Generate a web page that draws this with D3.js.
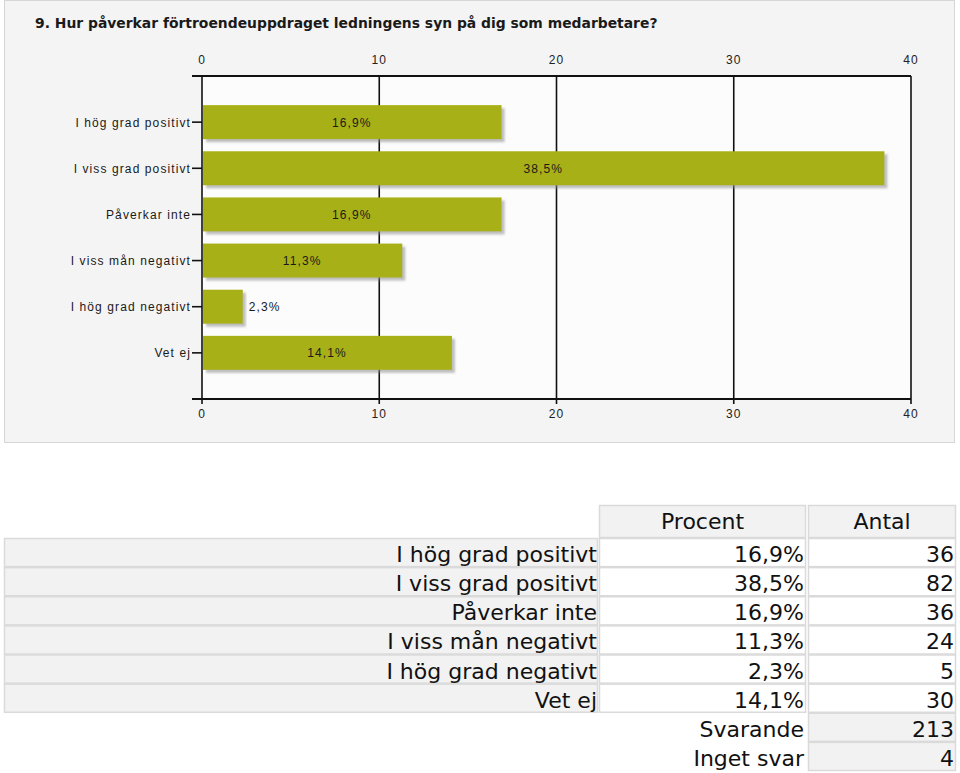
<!DOCTYPE html>
<html>
<head>
<meta charset="utf-8">
<script src="https://cdn.jsdelivr.net/npm/d3@7"></script>
<style>
  body { margin: 0; background: #fff; }
  svg text { font-family: "Liberation Sans", Arial, sans-serif; }
  .tbl text { font-family: "DejaVu Sans", Verdana, sans-serif; font-size: 22px; fill: #111; }
</style>
</head>
<body>
<script>
// chart data
var title = "9. Hur påverkar förtroendeuppdraget ledningens syn på dig som medarbetare?";
var categories = ["I hög grad positivt", "I viss grad positivt", "Påverkar inte",
                  "I viss mån negativt", "I hög grad negativt", "Vet ej"];
var percents = [16.9, 38.5, 16.9, 11.3, 2.3, 14.1];
var counts = [36, 82, 36, 24, 5, 30];
var xTicks = [0, 10, 20, 30, 40];

// table data
var columns = ["Procent", "Antal"];
var summaryLabels = ["Svarande", "Inget svar"];
var summaryValues = [213, 4];

var fmt = function(v) { return d3.format(".1f")(v).replace(".", ",") + "%"; };

var svg = d3.select("body").append("svg")
    .attr("width", 960)
    .attr("height", 773);

var defs = svg.append("defs");
defs.append("filter")
    .attr("id", "shadow")
    .attr("x", "-5%").attr("y", "-20%")
    .attr("width", "115%").attr("height", "160%")
  .append("feDropShadow")
    .attr("dx", 3).attr("dy", 3)
    .attr("stdDeviation", 1.2)
    .attr("flood-color", "#8a8a8a")
    .attr("flood-opacity", 0.55);

// panel
svg.append("rect")
    .attr("x", 4.5).attr("y", 0.5)
    .attr("width", 950).attr("height", 442)
    .attr("fill", "#f4f4f4")
    .attr("stroke", "#d6d6d6");

var t = svg.append("text")
    .attr("x", 35).attr("y", 28)
    .style("font-family", "'DejaVu Sans', Verdana, sans-serif")
    .style("font-weight", "bold")
    .style("font-size", "12px")
    .attr("fill", "#1a1a1a")
    .text(title);
var tw = t.node().getComputedTextLength();
t.style("font-size", (12 * 623 / tw) + "px");

// plot geometry
var x = d3.scaleLinear().domain([0, 40]).range([202, 911]);
var y = d3.scalePoint().domain(categories).range([76, 399]).padding(1);
var barH = 34;

svg.append("rect")
    .attr("x", x(0)).attr("y", 76)
    .attr("width", x(40) - x(0)).attr("height", 399 - 76)
    .attr("fill", "#fcfcfc");

// grid lines
svg.append("g").selectAll("line")
    .data(xTicks)
  .enter().append("line")
    .attr("x1", function(d) { return x(d); })
    .attr("x2", function(d) { return x(d); })
    .attr("y1", 76).attr("y2", 404)
    .attr("stroke", "#111")
    .attr("stroke-width", 1.6);

// bars
svg.append("g").selectAll("rect")
    .data(percents)
  .enter().append("rect")
    .attr("x", x(0) + 1)
    .attr("y", function(d, i) { return y(categories[i]) - barH / 2; })
    .attr("width", function(d) { return x(d) - x(0) - 1; })
    .attr("height", barH)
    .attr("fill", "#a7b012")
    .attr("filter", "url(#shadow)");

// value labels
svg.append("g").selectAll("text")
    .data(percents)
  .enter().append("text")
    .attr("x", function(d) {
        var w = x(d) - x(0);
        return w > 60 ? x(0) + w / 2 : x(d) + 6;
    })
    .attr("y", function(d, i) { return y(categories[i]) + 4.5; })
    .attr("text-anchor", function(d) { return x(d) - x(0) > 60 ? "middle" : "start"; })
    .style("font-size", "12px")
    .style("letter-spacing", "1.1px")
    .attr("fill", "#1a1a1a")
    .text(fmt);

// axes lines (top & bottom) extend left of zero
[76, 399].forEach(function(yy) {
    svg.append("line")
        .attr("x1", 192).attr("x2", x(40))
        .attr("y1", yy).attr("y2", yy)
        .attr("stroke", "#111")
        .attr("stroke-width", 2);
});

// x tick labels top and bottom
[64, 418].forEach(function(yy) {
    svg.append("g").selectAll("text")
        .data(xTicks)
      .enter().append("text")
        .attr("x", function(d) { return x(d); })
        .attr("y", yy)
        .attr("text-anchor", "middle")
        .style("font-size", "12px")
        .style("letter-spacing", "1px")
        .attr("fill", "#222")
        .text(function(d) { return d; });
});

// y ticks and labels
var yg = svg.append("g");
yg.selectAll("line")
    .data(categories)
  .enter().append("line")
    .attr("x1", 192).attr("x2", x(0))
    .attr("y1", function(d) { return y(d); })
    .attr("y2", function(d) { return y(d); })
    .attr("stroke", "#111")
    .attr("stroke-width", 1.6);
yg.selectAll("text")
    .data(categories)
  .enter().append("text")
    .attr("x", 191)
    .attr("y", function(d) { return y(d) + 4.5; })
    .attr("text-anchor", "end")
    .style("font-size", "12px")
    .style("letter-spacing", "1.1px")
    .attr("fill", "#1a1a1a")
    .text(function(d) { return d; });

// ---- table ----
var tbl = svg.append("g").attr("class", "tbl");
var rowY = d3.scaleLinear().domain([0, 8]).range([538, 771]);
var colX = { label: [4, 598], pct: [599, 806], cnt: [808, 956] };

function cell(x0, x1, y0, y1, fill, stroke) {
    tbl.append("rect")
        .attr("x", x0 + 0.5).attr("y", y0 + 0.5)
        .attr("width", x1 - x0 - 1).attr("height", y1 - y0 - 1)
        .attr("fill", fill)
        .attr("stroke", stroke)
        .attr("stroke-width", 1.5);
}

// header
cell(colX.pct[0], colX.pct[1], 505, 538, "#f2f2f2", "#dadada");
cell(colX.cnt[0], colX.cnt[1], 505, 538, "#f2f2f2", "#dadada");
tbl.append("text").attr("x", (colX.pct[0] + colX.pct[1]) / 2).attr("y", 529)
    .attr("text-anchor", "middle").text(columns[0]);
tbl.append("text").attr("x", (colX.cnt[0] + colX.cnt[1]) / 2).attr("y", 529)
    .attr("text-anchor", "middle").text(columns[1]);

categories.forEach(function(c, i) {
    var y0 = rowY(i), y1 = rowY(i + 1);
    cell(colX.label[0], colX.label[1], y0, y1, "#f2f2f2", "#dadada");
    cell(colX.pct[0], colX.pct[1], y0, y1, "#ffffff", "#dadada");
    cell(colX.cnt[0], colX.cnt[1], y0, y1, "#ffffff", "#dadada");
    tbl.append("text").attr("x", colX.label[1] - 1).attr("y", y0 + 24)
        .attr("text-anchor", "end").text(c);
    tbl.append("text").attr("x", colX.pct[1] - 2).attr("y", y0 + 24)
        .attr("text-anchor", "end").text(fmt(percents[i]));
    tbl.append("text").attr("x", colX.cnt[1] - 2).attr("y", y0 + 24)
        .attr("text-anchor", "end").text(counts[i]);
});

summaryLabels.forEach(function(s, j) {
    var i = categories.length + j;
    var y0 = rowY(i), y1 = rowY(i + 1);
    cell(colX.cnt[0], colX.cnt[1], y0, y1, "#f2f2f2", "#dadada");
    tbl.append("text").attr("x", colX.pct[1] - 2).attr("y", y0 + 24)
        .attr("text-anchor", "end").text(s);
    tbl.append("text").attr("x", colX.cnt[1] - 2).attr("y", y0 + 24)
        .attr("text-anchor", "end").text(summaryValues[j]);
});
</script>
</body>
</html>
